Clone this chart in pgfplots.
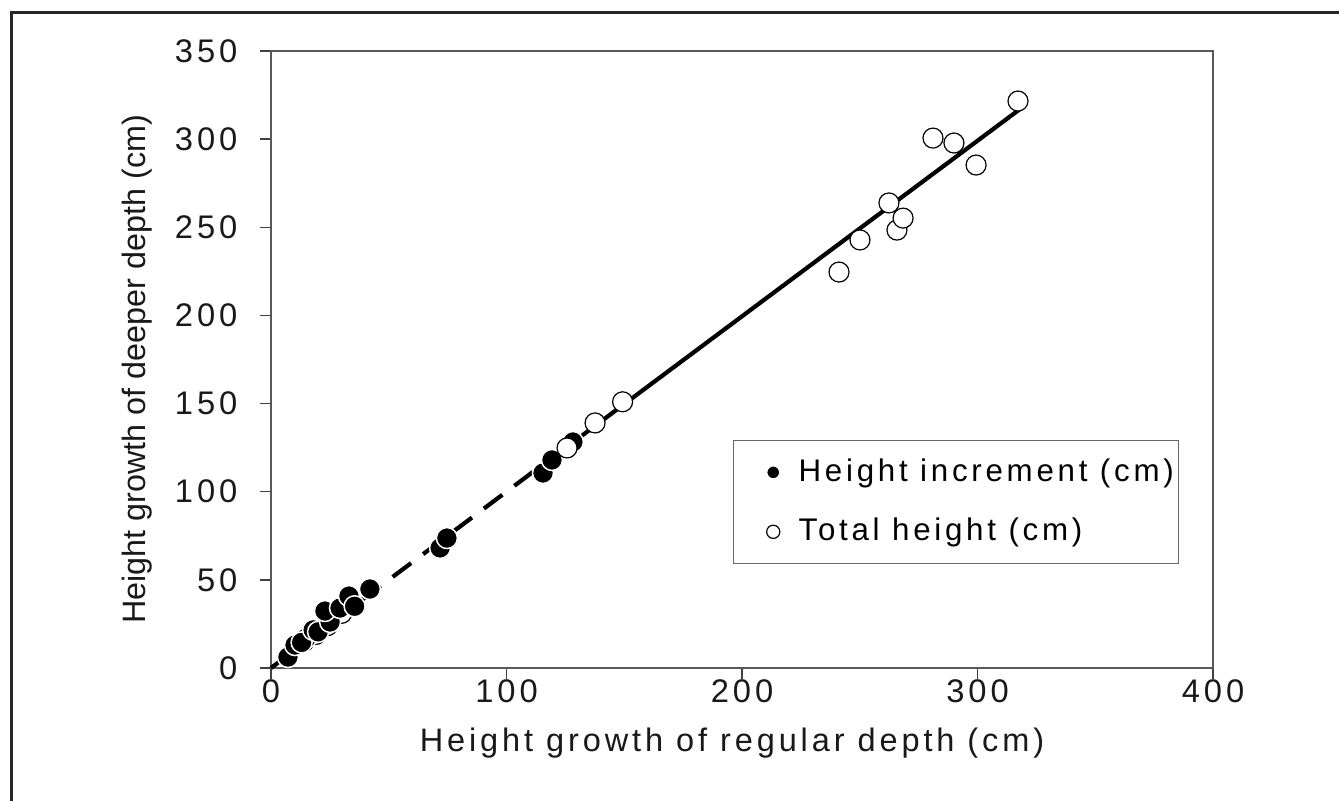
\documentclass[border=0pt]{standalone}
\usepackage{pgfplots}
\pgfplotsset{compat=1.18}
\usepackage{fontspec}
\setmainfont{Liberation Sans}[LetterSpace=12]
\newfontfamily\plainsans{Liberation Sans}

% filled markers: height increment
\pgfplotstableread{
x y
7.2 6.2
10.2 13.0
15.0 17.0
13.0 14.5
17.9 21.6
20.0 20.5
25.1 26.1
22.9 32.3
29.3 34.0
33.1 40.8
35.5 35.0
42.0 44.8
71.8 68.1
74.7 73.7
115.5 110.6
119.3 118.0
128.2 128.2
}\incr

% open markers: total height
\pgfplotstableread{
x y
125.7 124.8
137.6 139.0
149.3 151.0
241.2 224.6
250.1 242.8
262.4 263.8
265.8 248.4
268.4 255.2
281.1 300.6
290.0 297.8
299.4 285.3
317.2 321.6
}\total

\pgfplotsset{
  dot legend/.style={legend image code/.code={%
    \path (-3.6mm,0mm) (0.6mm,0mm);
    \draw[##1, mark size=0.66mm] plot coordinates {(0mm,0mm)};}},
}

\begin{document}
\begin{tikzpicture}[x=1mm,y=1mm]
\useasboundingbox (0,0) rectangle (133.9,80.1);
\draw[line width=0.3mm, black!85] (1.1,-5) -- (1.1,78.85) -- (140,78.85);
\begin{axis}[
  at={(27.1mm,13.3mm)}, anchor=south west,
  scale only axis, width=94.2mm, height=61.7mm,
  xmin=0, xmax=400, ymin=0, ymax=350,
  xtick={0,100,...,400}, ytick={0,50,...,350},
  xtick pos=bottom, ytick pos=left,
  minor tick num=0,
  tick align=outside, major tick length=1.1mm,
  axis line style={black!65, line width=0.15mm},
  every tick/.style={black!75, line width=0.15mm},
  /pgf/number format/assume math mode=true,
  ticklabel style={font=\fontsize{9.3}{11}\selectfont, text=black!90},
  yticklabel style={anchor=east, inner sep=0pt, xshift=-2.2mm},
  xticklabel style={anchor=north, inner sep=0pt, yshift=0mm},
  xlabel={Height growth of regular depth (cm)},
  ylabel={Height growth of deeper depth (cm)},
  xlabel style={at={(axis description cs:0.4894,-0.1215)}, anchor=center,
    font=\fontsize{9.25}{11}\selectfont, text=black!90},
  ylabel style={at={(axis description cs:-0.1423,0.484)}, anchor=center,
    font=\fontsize{9.2}{11}\plainsans, text=black!90},
  clip=false,
  legend style={at={(axis cs:196.2,129.3)}, anchor=north west,
    draw=black!60, line width=0.12mm,
    font=\fontsize{8.9}{10.5}\selectfont,
    inner xsep=0.3mm, inner ysep=1.6mm, row sep=2.8mm,
    column sep=1.7mm,
    nodes={inner sep=0.5pt}},
  legend cell align=left,
]
% regression lines
\addplot[black, line width=0.42mm, dash pattern=on 2.3mm off 1.5mm, forget plot]
  coordinates {(0,0) (127,127)};
\addplot[black, line width=0.42mm, forget plot]
  coordinates {(125,124.8) (318,317)};
% low-lying total heights hidden in the cluster
\addplot[only marks, mark=*, mark size=1.0mm, mark options={fill=white, draw=black, line width=0.12mm}, forget plot]
  coordinates {(14,15) (19,19) (24,24) (30,31)};
\addplot[only marks, mark=*, mark size=1.05mm,
  mark options={fill=black, draw=white, line width=0.15mm}, dot legend]
  table[x=x,y=y]{\incr};
\addlegendentry{Height increment (cm)}
\addplot[only marks, mark=*, mark size=1.0mm,
  mark options={fill=white, draw=black, line width=0.12mm}, dot legend]
  table[x=x,y=y]{\total};
\addlegendentry{Total height (cm)}
\end{axis}
\end{tikzpicture}
\end{document}
